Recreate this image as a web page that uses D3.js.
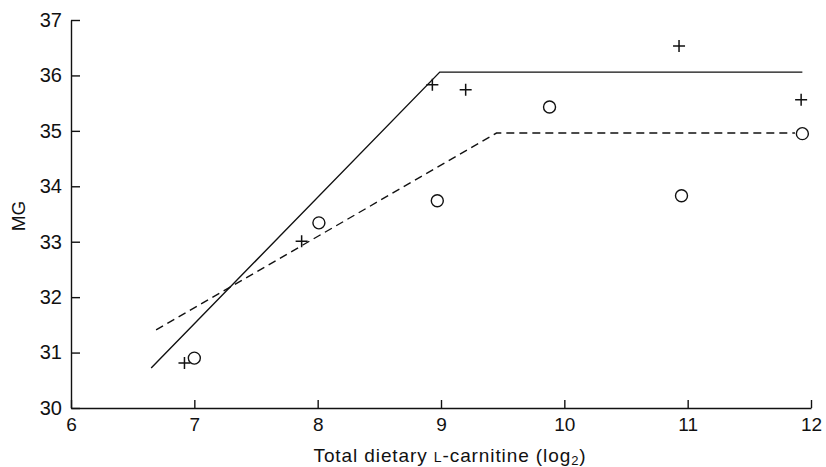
<!DOCTYPE html>
<html>
<head>
<meta charset="utf-8">
<script src="https://d3js.org/d3.v7.min.js"></script>
<style>
  body { margin: 0; background: #fff; }
  svg text { font-family: "Liberation Sans", Arial, Helvetica, sans-serif; fill: #111; }
</style>
</head>
<body>
<div id="vis"></div>
<script>
// data
const plusX = [6.92, 7.87, 8.93, 9.2, 10.93, 11.92];
const plusY = [30.81, 33.01, 35.83, 35.74, 36.53, 35.56];
const circX = [7.0, 8.01, 8.97, 9.88, 10.95, 11.93];
const circY = [30.9, 33.34, 33.74, 35.43, 33.83, 34.95];

// fitted broken-line models
const solidX = [6.65, 8.99, 11.93];
const solidY = [30.72, 36.06, 36.06];
const dashX = [6.69, 9.45, 11.87];
const dashY = [31.41, 34.96, 34.96];

const xTicks = [6, 7, 8, 9, 10, 11, 12];
const yTicks = [30, 31, 32, 33, 34, 35, 36, 37];

const width = 826, height = 467;
const mLeft = 71, mRight = 811, mTop = 20, mBottom = 408;

const svg = d3.select('#vis').append('svg')
    .attr('width', width).attr('height', height);

let x = d3.scaleLinear().domain([6, 12]).range([mLeft, mRight]);
let y = d3.scaleLinear().domain([30, 37]).range([mBottom, mTop]);

// axes, ticks pointing into the plot
let xAxis = d3.axisBottom(x).tickValues(xTicks).tickFormat(d3.format('d'))
    .tickSizeInner(-8).tickSizeOuter(0).tickPadding(10);
let gx = svg.append('g').attr('transform', `translate(0,${mBottom})`).call(xAxis);
gx.selectAll('text').style('font-size', '19px');

let yAxis = d3.axisLeft(y).tickValues(yTicks).tickFormat(d3.format('d'))
    .tickSizeInner(-9).tickSizeOuter(0).tickPadding(9);
let gy = svg.append('g').attr('transform', `translate(${mLeft},0)`).call(yAxis);
gy.selectAll('text').style('font-size', '20px');

svg.selectAll('.domain, .tick line').attr('stroke', '#111').attr('stroke-width', 1.4);

// axis titles
let xt = svg.append('text')
    .attr('x', 450).attr('y', 462)
    .attr('text-anchor', 'middle')
    .style('font-size', '19px')
    .style('letter-spacing', '0.9px');
xt.append('tspan').text('Total dietary ');
xt.append('tspan').style('font-size', '14px').text('L');
xt.append('tspan').text('-carnitine (log');
xt.append('tspan').attr('dy', 3).style('font-size', '13px').text('2');
xt.append('tspan').attr('dy', -3).text(')');

svg.append('text')
    .attr('transform', 'translate(25,216) rotate(-90)')
    .attr('text-anchor', 'middle')
    .style('font-size', '19px')
    .text('MG');

// model lines
let line = d3.line().x(d => x(d[0])).y(d => y(d[1]));
svg.append('path')
    .attr('d', line(d3.zip(solidX, solidY)))
    .attr('fill', 'none').attr('stroke', '#111').attr('stroke-width', 1.4);
svg.append('path')
    .attr('d', line(d3.zip(dashX, dashY)))
    .attr('fill', 'none').attr('stroke', '#111').attr('stroke-width', 1.4)
    .attr('stroke-dasharray', '8,5');

// plus markers
const ps = 6;
svg.selectAll('.plus')
    .data(d3.zip(plusX, plusY))
    .join('path')
    .attr('class', 'plus')
    .attr('d', d => {
        let cx = x(d[0]), cy = y(d[1]);
        return `M${cx - ps},${cy}H${cx + ps}M${cx},${cy - ps}V${cy + ps}`;
    })
    .attr('stroke', '#111').attr('stroke-width', 1.5);

// circle markers
svg.selectAll('.circ')
    .data(d3.zip(circX, circY))
    .join('circle')
    .attr('class', 'circ')
    .attr('cx', d => x(d[0])).attr('cy', d => y(d[1]))
    .attr('r', 6)
    .attr('fill', 'none').attr('stroke', '#111').attr('stroke-width', 1.4);
</script>
</body>
</html>
